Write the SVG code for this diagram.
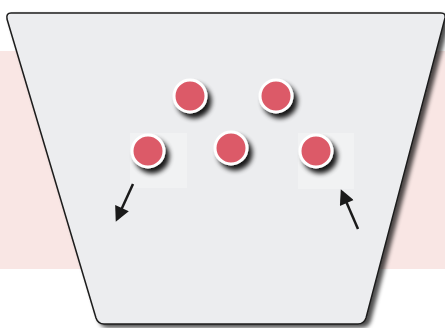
<svg xmlns="http://www.w3.org/2000/svg" width="445" height="328" viewBox="0 0 445 328">
<defs>
<style>
.dot{fill:#dc5a68;stroke:#ffffff;stroke-width:3}
.arrow{stroke:#1a1a1a;stroke-width:2.5;fill:none;marker-end:url(#ah)}
.pad{fill:#f1f2f3}
</style>
<filter id="sh" x="-50%" y="-50%" width="200%" height="200%">
<feGaussianBlur in="SourceAlpha" stdDeviation="2.5"/>
<feOffset dx="4" dy="5" result="b"/>
<feComponentTransfer in="b" result="c"><feFuncA type="linear" slope="0.9"/></feComponentTransfer>
<feMerge><feMergeNode in="c"/><feMergeNode in="SourceGraphic"/></feMerge>
</filter>
<filter id="tsh" x="-10%" y="-10%" width="120%" height="120%">
<feGaussianBlur in="SourceAlpha" stdDeviation="2"/>
<feOffset dx="4" dy="3" result="b"/>
<feComponentTransfer in="b" result="c"><feFuncA type="linear" slope="0.7"/></feComponentTransfer>
<feMerge><feMergeNode in="c"/><feMergeNode in="SourceGraphic"/></feMerge>
</filter>
<marker id="ah" viewBox="0 0 10 10" refX="8" refY="5" markerWidth="7" markerHeight="6" orient="auto" markerUnits="strokeWidth">
<path d="M0,0 L10,5 L0,10 Z" fill="#1a1a1a"/>
</marker>
</defs>
<rect x="0" y="0" width="445" height="328" fill="#ffffff"/>
<rect x="0" y="51" width="445" height="218" fill="#f9e6e4"/>
<g id="trapezoid">
<path d="M11,13 L441,13 Q446,13 445,18 L366,318 Q364,324 358,324 L104,324 Q98,324 96,318 L7,19 Q6,13 11,13 Z" fill="#ecedef" stroke="#1e1e1e" stroke-width="1.5" filter="url(#tsh)"/>
</g>
<g id="pads">
<rect class="pad" x="130" y="133" width="57" height="55"/>
<rect class="pad" x="298" y="133" width="56" height="56"/>
</g>
<g id="dot1"><circle class="dot" cx="190" cy="96" r="16" filter="url(#sh)"/></g>
<g id="dot2"><circle class="dot" cx="276" cy="96" r="16" filter="url(#sh)"/></g>
<g id="dot3"><circle class="dot" cx="148" cy="151" r="16" filter="url(#sh)"/></g>
<g id="dot4"><circle class="dot" cx="231" cy="148" r="16" filter="url(#sh)"/></g>
<g id="dot5"><circle class="dot" cx="316" cy="151" r="16" filter="url(#sh)"/></g>
<g id="connectors">
<line class="arrow" x1="133" y1="184" x2="117" y2="219"/>
<line class="arrow" x1="358" y1="229" x2="342" y2="192"/>
</g>
</svg>
